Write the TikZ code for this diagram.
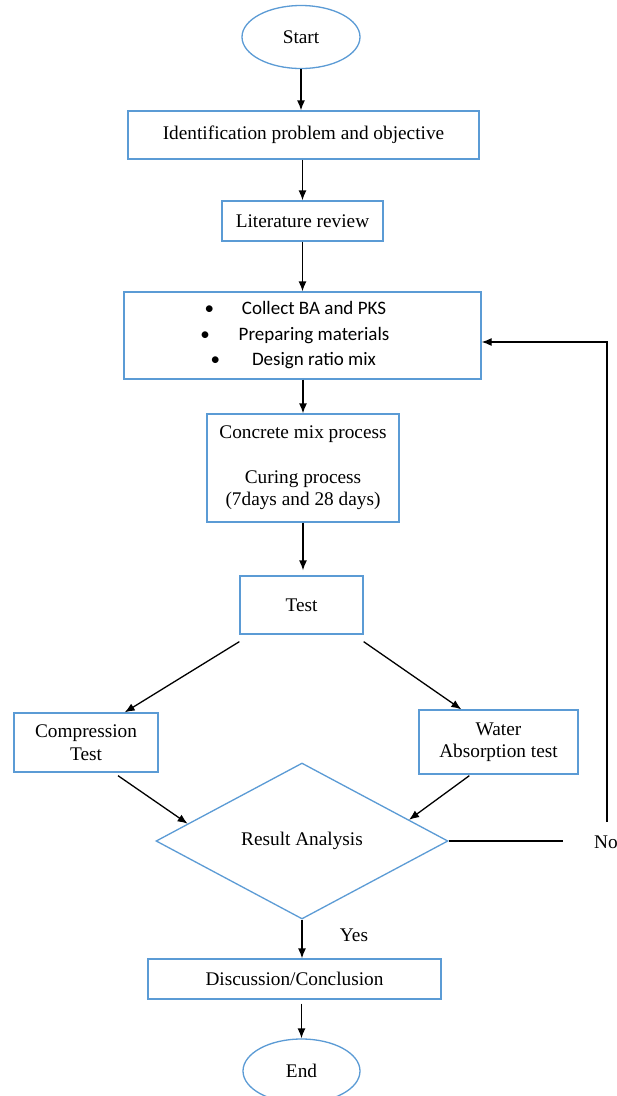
\documentclass[tikz,border=0pt]{standalone}
\usepackage{fontspec}
\setmainfont{Liberation Serif}
\newfontfamily\calib{Carlito}
\usetikzlibrary{shapes.geometric,arrows.meta,calc}
\definecolor{boxblue}{RGB}{91,155,213}
\begin{document}
\begin{tikzpicture}[x=1pt,y=-1pt,
  font=\fontsize{19.3}{22.5}\selectfont,
  box/.style={draw=boxblue,line width=1.3pt,rectangle,inner sep=0pt,align=center},
  oval/.style={draw=boxblue,line width=1.3pt,ellipse,inner sep=0pt},
  dia/.style={draw=boxblue,line width=1.3pt,diamond,inner sep=0pt},
  arr/.style={-{Latex[length=10pt,width=8pt]},line width=1.3pt},
  ln/.style={line width=1.3pt}]
\clip (0,0) rectangle (617,1096);
\fill[white] (0,0) rectangle (617,1096);

\node[oval,minimum width=118,minimum height=63] (start) at (301,37) {\raisebox{-2pt}{Start}};
\node[box,minimum width=351,minimum height=48] (ident) at (303.5,135) {\raisebox{-2pt}{Identification problem and objective}};
\node[box,minimum width=161,minimum height=40] (lit) at (302.5,221) {Literature review};
\node[box,minimum width=357,minimum height=87,font=\calib\fontsize{19}{25.5}\selectfont] (collect) at (302.5,335.5)
  {\hspace*{23pt}\llap{\textbullet\hspace{28pt}}Collect BA and PKS\\
   \hspace*{23pt}\llap{\textbullet\hspace{29pt}}Preparing materials\\
   \hspace*{23pt}\llap{\textbullet\hspace{32pt}}Design ratio mix};
\node[box,minimum width=192,minimum height=108] (concrete) at (303,468)
  {Concrete mix process\\[22pt]Curing process\\(7days and 28 days)};
\node[box,minimum width=123,minimum height=58] (test) at (301.5,605) {Test};
\node[box,minimum width=144,minimum height=59] (comp) at (86,742.5) {Compression\\Test};
\node[box,minimum width=159,minimum height=64] (water) at (498.5,742) {Water\\Absorption test};
\node[dia,minimum width=292,minimum height=156] (res) at (302,841) {Result Analysis};
\node[box,minimum width=293,minimum height=40] (disc) at (294.5,979) {Discussion/Conclusion};
\node[oval,minimum width=117,minimum height=64] (end) at (301.5,1071) {End};

\node[anchor=west,inner sep=0pt] (no) at (594,842) {No};
\node (yes) at (354,935) {Yes};
\coordinate (noL) at (563,841);
\coordinate (noT) at (607,822);

\draw[arr] (start.south) -- (start.south |- ident.north);
\draw[arr] (ident.south -| lit.north) -- (lit.north);
\draw[arr] (lit.south) -- (lit.south |- collect.north);
\draw[arr] (collect.south -| concrete.north) -- (concrete.north);
\draw[arr] (concrete.south) -- ($(concrete.south |- test.north)+(0,-5)$);
\draw[arr] ($(test.south west)+(0,7)$) -- ($(comp.north east)+(-34,0)$);
\draw[arr] ($(test.south east)+(0,7)$) -- ($(water.north west)+(43,0)$);
\draw[arr] ($(comp.south)+(32,3)$) -- ($(res.west)!0.22!(res.north)$);
\draw[arr] ($(water.south west)+(51,1)$) -- ($(res.east)!0.27!(res.north)$);
\draw[arr] (res.south) -- (res.south |- disc.north);
\draw[arr] ($(disc.south -| end.north)+(0,4)$) -- (end.north);
\draw[ln] (res.east) -- (noL);
\draw[arr] (noT) |- ($(collect.east)+(0,6.5)$);
\end{tikzpicture}
\end{document}
